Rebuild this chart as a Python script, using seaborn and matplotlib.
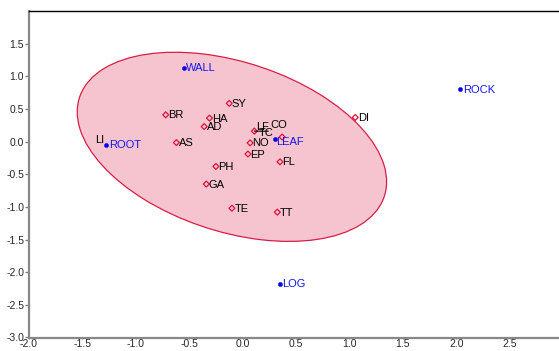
import numpy as np
import pandas as pd
import matplotlib
matplotlib.use("Agg")
import matplotlib.pyplot as plt
from matplotlib.patches import Ellipse
import seaborn as sns

# Species scores (ordination axes 1 and 2)
species = ["AS", "AD", "BR", "CO", "DI", "EP", "FL", "GA", "HA",
           "LF", "LI", "NO", "PH", "SY", "TC", "TE", "TT"]
species_x = [-0.62, -0.36, -0.72, 0.37, 1.055, 0.05, 0.35, -0.34, -0.31,
             0.11, -1.28, 0.07, -0.25, -0.125, 0.30, -0.10, 0.325]
species_y = [-0.015, 0.23, 0.41, 0.07, 0.37, -0.19, -0.31, -0.65, 0.36,
             0.16, -0.04, -0.02, -0.38, 0.585, 0.05, -1.02, -1.08]
# species whose symbol sits beneath a substrate symbol
covered = ["LI", "TC"]

# Substrate (environmental) scores
substrates = ["WALL", "ROOT", "LEAF", "ROCK", "LOG"]
substrate_x = [-0.553, -1.276, 0.30, 2.04, 0.35]
substrate_y = [1.13, -0.046, 0.045, 0.80, -2.18]

# Ellipse around the species cloud
ell_center = (-0.10, -0.08)
ell_width, ell_height, ell_angle = 3.39, 2.30, -45.0

x_ticks = [-2.0, -1.5, -1.0, -0.5, 0.0, 0.5, 1.0, 1.5, 2.0, 2.5]
y_ticks = [-3.0, -2.5, -2.0, -1.5, -1.0, -0.5, 0.0, 0.5, 1.0, 1.5]

sp_df = pd.DataFrame({"name": species, "x": species_x, "y": species_y})
env_df = pd.DataFrame({"name": substrates, "x": substrate_x, "y": substrate_y})

sns.set_style("white")
plt.rcParams["font.family"] = ["Liberation Sans", "DejaVu Sans"]
plt.rcParams["axes.unicode_minus"] = False

fig = plt.figure(figsize=(5.59, 3.51), dpi=100)
ax = fig.add_axes([29 / 559, 13.5 / 351, 534 / 559, 326.5 / 351])

ax.add_patch(Ellipse(ell_center, ell_width, ell_height, angle=ell_angle,
                     facecolor="#F5C4CF", edgecolor="#D81E48", lw=0.9, zorder=1))

sns.scatterplot(data=sp_df[~sp_df["name"].isin(covered)], x="x", y="y", ax=ax,
                marker="D", s=9, facecolor="none", edgecolor="#E0103C",
                linewidth=0.9, zorder=3, legend=False)
sns.scatterplot(data=env_df, x="x", y="y", ax=ax, marker="o", s=9,
                color="#0000EE", edgecolor="#0000EE", linewidth=0.3,
                zorder=4, legend=False)

# Label placement (pixel offsets) for crowded labels
sp_offsets = {"LI": (-2, 4, "right"), "LF": (1.5, 4.5, "left"),
              "CO": (-12, 12, "left"), "TC": (-1, 5, "right")}
for name, x, y in zip(species, species_x, species_y):
    dx, dy, ha = sp_offsets.get(name, (2.5, -0.5, "left"))
    ax.annotate(name, (x, y), xytext=(dx, dy), textcoords="offset pixels",
                ha=ha, va="center", fontsize=8, color="black", zorder=5)

# leader line from LF
lf = species.index("LF")
ax.annotate("", (species_x[lf], species_y[lf]), xytext=(14, 0),
            textcoords="offset pixels",
            arrowprops=dict(arrowstyle="-", lw=0.8, color="black",
                            shrinkA=0, shrinkB=0), zorder=5)

env_offsets = {"LEAF": (1, -3)}
for name, x, y in zip(substrates, substrate_x, substrate_y):
    dx, dy = env_offsets.get(name, (2.5, -0.5))
    ax.annotate(name, (x, y), xytext=(dx, dy), textcoords="offset pixels",
                ha="left", va="center", fontsize=8, color="#1515F0", zorder=5)

ax.set_xlim(-2.0, 3.0)
ax.set_ylim(-3.0, 2.0)
ax.set_xticks(x_ticks)
ax.set_yticks(y_ticks)
ax.set_xticklabels([f"{v:.1f}" for v in x_ticks])
ax.set_yticklabels([f"{v:.1f}" for v in y_ticks])
ax.set_xlabel("")
ax.set_ylabel("")

ax.tick_params(axis="y", direction="out", length=3, width=1, pad=0.5,
               labelsize=7.5, color="#808080", left=True)
ax.tick_params(axis="x", direction="out", length=1, width=1, pad=0,
               labelsize=7.5, color="#808080", bottom=True)

for side in ["left", "bottom"]:
    ax.spines[side].set_color("#888888")
    ax.spines[side].set_linewidth(1.6)
ax.spines["top"].set_color("black")
ax.spines["top"].set_linewidth(1.0)
ax.spines["right"].set_visible(False)

fig.savefig("out.png", dpi=100)
